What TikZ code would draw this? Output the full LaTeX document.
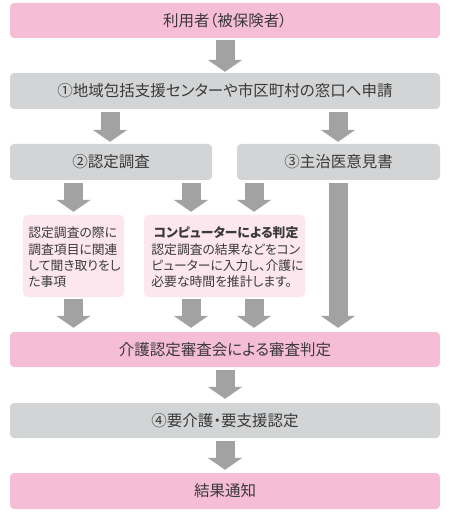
\documentclass[tikz,border=0pt]{standalone}
\usepackage{fontspec}
\setmainfont{Noto Sans CJK JP}[RawFeature=+palt]
\usetikzlibrary{arrows.meta}
\definecolor{pinkA}{HTML}{F6BDD6}
\definecolor{grayA}{HTML}{D3D4D5}
\definecolor{pinkB}{HTML}{FCE7EF}
\definecolor{arrowC}{HTML}{A2A2A2}
\definecolor{txt}{HTML}{3A3A3A}
\tikzset{
  box/.style={rounded corners=4pt, inner sep=0pt, text=txt, font=\fontsize{15.5pt}{18pt}\selectfont},
  pinkbox/.style={box, fill=pinkA},
  graybox/.style={box, fill=grayA},
  notebox/.style={rounded corners=4pt, fill=pinkB, inner sep=0pt},
  notetext/.style={inner sep=0pt, text=txt, font=\fontsize{12.8pt}{16.3pt}\selectfont},
  barrow/.style={draw=arrowC, line width=19pt, -{Triangle[width=34pt,length=12pt]}}
}
\begin{document}
\begin{tikzpicture}[x=1pt,y=-1pt]
\useasboundingbox (0,0) rectangle (450,518);
\node[pinkbox, minimum width=430pt, minimum height=35pt] (b1) at (225,20.5) {利用者（被保険者）};
\node[graybox, minimum width=430pt, minimum height=36pt] (b2) at (225,91) {①地域包括支援センターや市区町村の窓口へ申請};
\node[graybox, minimum width=202pt, minimum height=36pt] (b3) at (111,162) {②認定調査};
\node[graybox, minimum width=203pt, minimum height=36pt] (b4) at (338.5,162) {③主治医意見書};
\node[notebox, minimum width=101pt, minimum height=82pt] (b5) at (73.5,256) {};
\node[notetext] (b5t) at ([xshift=1pt,yshift=-3pt]b5.center) {%
  \begin{tabular}{@{}l@{}}認定調査の際に\\調査項目に関連\\して聞き取りをし\\た事項\end{tabular}};
\node[notebox, minimum width=161pt, minimum height=82pt] (b6) at (224.5,256) {};
\node[notetext] (b6t) at ([xshift=3pt,yshift=-3pt]b6.center) {%
  \begin{tabular}{@{}l@{}}\multicolumn{1}{@{}c@{}}{\bfseries コンピューターによる判定\kern3pt}\\認定調査の結果などをコン\\ピューターに入力し、介護に\\必要な時間を推計します。\end{tabular}};
\node[pinkbox, minimum width=430pt, minimum height=35pt] (b7) at (225,349.5) {介護認定審査会による審査判定};
\node[graybox, minimum width=430pt, minimum height=35pt] (b8) at (225,420.5) {④要介護・要支援認定};
\node[pinkbox, minimum width=430pt, minimum height=36pt] (b9) at (225,491) {結果通知};
\coordinate (xl) at (110,0);
\coordinate (xa) at (191,0);
\coordinate (xb) at (254,0);
\coordinate (xr) at (338,0);
\draw[barrow, shorten <=2pt, shorten >=1pt] (b1.south) -- (b2.north);
\draw[barrow, shorten <=3pt, shorten >=2pt] (b2.south -| xl) -- (b3.north -| xl);
\draw[barrow, shorten <=3pt, shorten >=2pt] (b2.south -| xr) -- (b4.north -| xr);
\draw[barrow, shorten <=3pt, shorten >=3pt] (b3.south -| b5.north) -- (b5.north);
\draw[barrow, shorten <=3pt, shorten >=3pt] (b3.south -| xa) -- (b6.north -| xa);
\draw[barrow, shorten <=3pt, shorten >=3pt] (b4.south -| xb) -- (b6.north -| xb);
\draw[barrow, shorten <=3pt, shorten >=4pt] (b4.south -| xr) -- (b7.north -| xr);
\draw[barrow, shorten <=2pt, shorten >=4pt] (b5.south) -- (b7.north -| b5.south);
\draw[barrow, shorten <=2pt, shorten >=4pt] (b6.south -| xa) -- (b7.north -| xa);
\draw[barrow, shorten <=2pt, shorten >=4pt] (b6.south -| xb) -- (b7.north -| xb);
\draw[barrow, shorten <=3pt, shorten >=4pt] (b7.south) -- (b8.north);
\draw[barrow, shorten <=3pt, shorten >=3pt] (b8.south) -- (b9.north);
\end{tikzpicture}
\end{document}
